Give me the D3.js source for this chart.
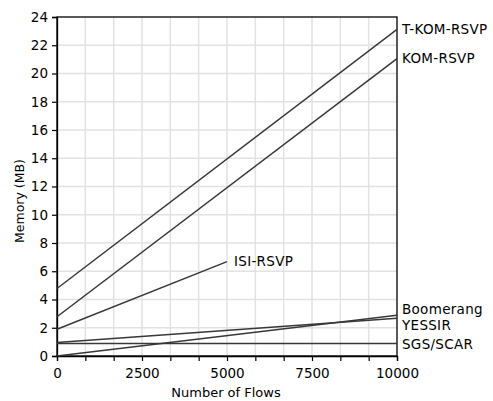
<!DOCTYPE html>
<html><head><meta charset="utf-8">
<script src="https://cdn.jsdelivr.net/npm/d3@7"></script>
<style>body{margin:0;background:#fff}svg{display:block}</style>
</head><body><svg id="c" width="493" height="401"></svg>
<script>
const seriesNames = ["T-KOM-RSVP","KOM-RSVP","ISI-RSVP","Boomerang","YESSIR","SGS/SCAR"];
const seriesX = [[0,10000],[0,10000],[0,5000],[0,10000],[0,10000],[0,10000]];
const seriesY = [[4.78,23.13],[2.78,21.05],[1.89,6.68],[0,2.88],[0.95,2.68],[0.88,0.88]];
const xTickLabels = [0,2500,5000,7500,10000];
const yTickLabels = [0,2,4,6,8,10,12,14,16,18,20,22,24];
const labelPos = {"T-KOM-RSVP":[23.13,0],"KOM-RSVP":[21.05,0],"ISI-RSVP":[6.68,0],"Boomerang":[2.88,-6],"YESSIR":[2.68,7],"SGS/SCAR":[0.88,1]};

const svg = d3.select("#c");
const m = {l:57,t:17,r:397,b:356};
const x = d3.scaleLinear().domain([0,10000]).range([m.l,m.r]);
const y = d3.scaleLinear().domain([0,24]).range([m.b,m.t]);
const font = "'DejaVu Sans', sans-serif";
const xGrid = d3.range(0,10001,10000/12);

// grid
svg.append("g").selectAll("line").data(xGrid.slice(1,-1)).join("line")
  .attr("x1",d=>x(d)).attr("x2",d=>x(d)).attr("y1",m.t).attr("y2",m.b)
  .attr("stroke","#e2e2e2").attr("stroke-width",1.5);
svg.append("g").selectAll("line").data(yTickLabels.slice(1,-1)).join("line")
  .attr("y1",d=>y(d)).attr("y2",d=>y(d)).attr("x1",m.l).attr("x2",m.r)
  .attr("stroke","#e2e2e2").attr("stroke-width",1.5);

// frame
svg.append("rect").attr("x",m.l).attr("y",m.t).attr("width",m.r-m.l).attr("height",m.b-m.t)
  .attr("fill","none").attr("stroke","#000").attr("stroke-width",1.3);

// axes
const xa = svg.append("g").attr("transform",`translate(0,${m.b})`)
  .call(d3.axisBottom(x).tickValues(xGrid).tickSize(5).tickFormat(d=>xTickLabels.includes(Math.round(d))?Math.round(d):""));
const ya = svg.append("g").attr("transform",`translate(${m.l},0)`)
  .call(d3.axisLeft(y).tickValues(yTickLabels).tickSize(5).tickFormat(d=>d));
[xa,ya].forEach(a=>{
  a.select(".domain").attr("stroke","#000").attr("stroke-width",1.3);
  a.selectAll(".tick line").attr("stroke","#000").attr("stroke-width",1.2);
  a.selectAll("text").attr("font-family",font).attr("font-size",13.5).attr("fill","#000");
});
xa.selectAll("text").attr("dy","1.0em");
ya.selectAll("text").attr("dx","-1px");

// lines
const line = d3.line().x(d=>x(d[0])).y(d=>y(d[1]));
seriesNames.forEach((n,i)=>{
  const pts = seriesX[i].map((v,j)=>[v,seriesY[i][j]]);
  svg.append("path").datum(pts).attr("d",line).attr("fill","none")
    .attr("stroke","#383838").attr("stroke-width",1.5);
  const lp = labelPos[n];
  const lx = seriesX[i][1];
  svg.append("text").attr("x",x(lx)+(lx===10000?5:7)).attr("y",y(lp[0])+lp[1])
    .attr("dy","0.35em").attr("font-family",font).attr("font-size",13.5)
    .attr("letter-spacing","0.3px").attr("fill","#000").text(n);
});

// titles
svg.append("text").attr("x",226).attr("y",397).attr("text-anchor","middle")
  .attr("font-family",font).attr("font-size",13).text("Number of Flows");
svg.append("text").attr("transform","translate(24,201) rotate(-90)").attr("text-anchor","middle")
  .attr("font-family",font).attr("font-size",12.5).text("Memory (MB)");
</script></body></html>
